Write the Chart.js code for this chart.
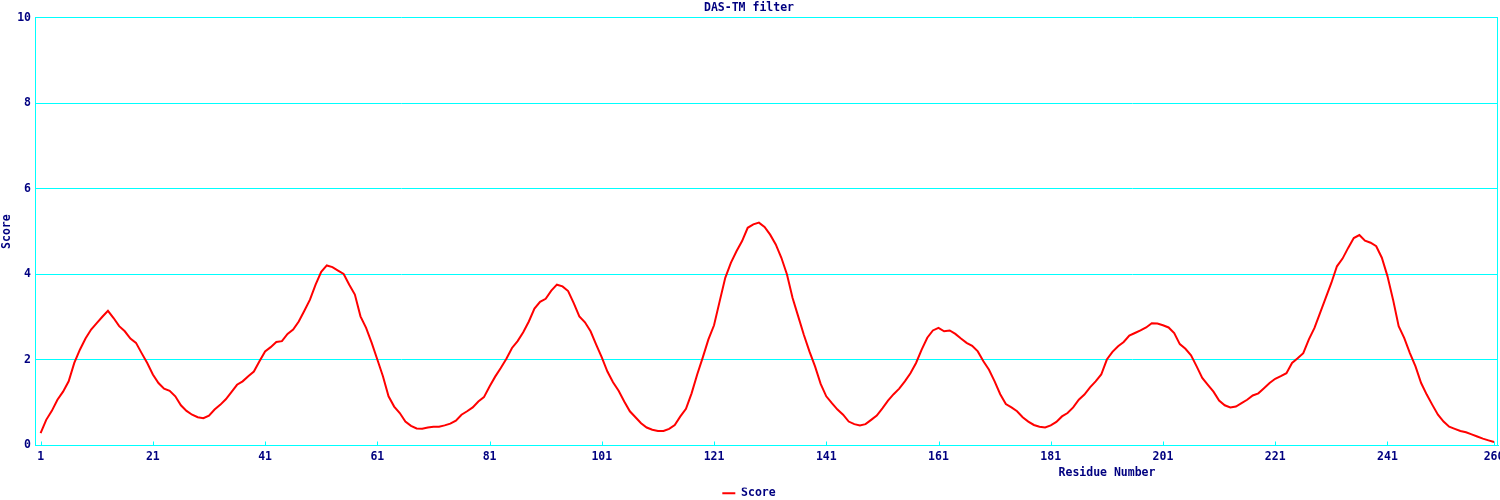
<!DOCTYPE html>
<html>
<head>
<meta charset="utf-8">
<title>DAS-TM filter</title>
<script src="https://cdn.jsdelivr.net/npm/chart.js@4"></script>
<style>
  html, body { margin: 0; padding: 0; background: #fff; }
  #wrap { width: 1500px; height: 500px; }
</style>
</head>
<body>
<div id="wrap"><canvas id="grafico"></canvas></div>
<script>
// DAS-TM score per residue
const scores = [
    0.29, 0.60, 0.81, 1.07, 1.26, 1.50, 1.93, 2.24, 2.50, 2.71,
    2.86, 3.01, 3.15, 2.98, 2.79, 2.67, 2.50, 2.40, 2.16, 1.93,
    1.66, 1.46, 1.33, 1.28, 1.15, 0.94, 0.81, 0.72, 0.66, 0.64,
    0.70, 0.84, 0.95, 1.08, 1.25, 1.42, 1.50, 1.62, 1.73, 1.97,
    2.20, 2.30, 2.42, 2.44, 2.61, 2.71, 2.90, 3.15, 3.41, 3.76,
    4.06, 4.21, 4.17, 4.09, 4.01, 3.76, 3.53, 3.02, 2.75, 2.40,
    2.01, 1.62, 1.15, 0.91, 0.76, 0.56, 0.46, 0.40, 0.39, 0.42,
    0.44, 0.44, 0.47, 0.51, 0.58, 0.72, 0.80, 0.89, 1.03, 1.13,
    1.38, 1.61, 1.81, 2.03, 2.28, 2.44, 2.65, 2.90, 3.20, 3.36,
    3.43, 3.62, 3.76, 3.72, 3.61, 3.33, 3.02, 2.88, 2.67, 2.36,
    2.06, 1.73, 1.48, 1.28, 1.03, 0.80, 0.66, 0.52, 0.42, 0.37,
    0.34, 0.34, 0.39, 0.48, 0.68, 0.86, 1.22, 1.66, 2.06, 2.48,
    2.81, 3.37, 3.92, 4.27, 4.54, 4.78, 5.09, 5.17, 5.21, 5.11,
    4.93, 4.70, 4.39, 4.00, 3.45, 3.02, 2.59, 2.20, 1.85, 1.44,
    1.15, 0.99, 0.84, 0.72, 0.56, 0.50, 0.47, 0.50, 0.60, 0.70,
    0.87, 1.05, 1.20, 1.33, 1.50, 1.69, 1.93, 2.24, 2.52, 2.69,
    2.75, 2.67, 2.69, 2.61, 2.50, 2.40, 2.33, 2.20, 1.97, 1.77,
    1.50, 1.20, 0.97, 0.89, 0.80, 0.66, 0.56, 0.48, 0.44, 0.42,
    0.47, 0.55, 0.68, 0.76, 0.89, 1.07, 1.19, 1.36, 1.50, 1.66,
    2.01, 2.19, 2.32, 2.42, 2.57, 2.63, 2.69, 2.76, 2.86, 2.85,
    2.81, 2.76, 2.63, 2.37, 2.26, 2.11, 1.85, 1.58, 1.42, 1.26,
    1.05, 0.94, 0.89, 0.91, 0.99, 1.07, 1.17, 1.22, 1.34, 1.46,
    1.56, 1.62, 1.69, 1.93, 2.04, 2.16, 2.48, 2.75, 3.10, 3.45,
    3.80, 4.19, 4.37, 4.62, 4.85, 4.92, 4.79, 4.74, 4.66, 4.39,
    3.96, 3.41, 2.79, 2.51, 2.16, 1.85, 1.46, 1.19, 0.95, 0.72,
    0.56, 0.44, 0.39, 0.34, 0.31, 0.26, 0.21, 0.16, 0.12, 0.08
];
const firstResidue = 1;
const xTicks = [1, 21, 41, 61, 81, 101, 121, 141, 161, 181, 201, 221, 241, 260];
const yTicks = [0, 2, 4, 6, 8, 10];

const navy = '#000080';
const cyan = '#00ffff';
const font = { family: '"DejaVu Sans Mono", monospace', size: 11.5, weight: 'bold' };

const points = scores.map((v, i) => ({ x: firstResidue + i, y: v }));

// tick marks pointing into the plot, right border, x-axis title
const extras = {
    id: 'extras',
    afterDraw(chart) {
        const { ctx, chartArea: a, scales: { x } } = chart;
        ctx.save();
        ctx.strokeStyle = cyan;
        ctx.lineWidth = 1;
        ctx.beginPath();
        xTicks.forEach(t => {
            const px = Math.round(x.getPixelForValue(t)) + 0.5;
            ctx.moveTo(px, a.bottom);
            ctx.lineTo(px, a.bottom - 4);
        });
        ctx.moveTo(Math.round(a.right) - 0.5, a.top);
        ctx.lineTo(Math.round(a.right) - 0.5, a.bottom);
        ctx.stroke();
        ctx.fillStyle = navy;
        ctx.font = 'bold 11.5px "DejaVu Sans Mono", monospace';
        ctx.textAlign = 'center';
        ctx.textBaseline = 'middle';
        ctx.fillText('Residue Number', 1107, 473);
        ctx.restore();
    }
};

new Chart(document.getElementById('grafico').getContext('2d'), {
    type: 'line',
    data: {
        datasets: [{
            label: 'Score',
            data: points,
            borderColor: '#ff0000',
            backgroundColor: '#ff0000',
            borderWidth: 2,
            pointRadius: 0,
            tension: 0,
            fill: false
        }]
    },
    options: {
        responsive: true,
        maintainAspectRatio: false,
        animation: false,
        layout: { padding: { left: 0, right: 2, top: 0, bottom: -9 } },
        scales: {
            x: {
                type: 'linear',
                min: 0,
                max: 260.7,
                afterBuildTicks: scale => { scale.ticks = xTicks.map(v => ({ value: v })); },
                afterFit: scale => { scale.paddingLeft = 0; scale.paddingRight = 0; scale.height = 42; },
                grid: { display: false, drawTicks: false },
                border: { color: cyan, width: 1 },
                ticks: { color: navy, font: font, padding: 5, autoSkip: false, maxRotation: 0 }
            },
            y: {
                min: 0,
                max: 10,
                afterBuildTicks: scale => { scale.ticks = yTicks.map(v => ({ value: v })); },
                afterFit: scale => { scale.width = 35; },
                grid: { color: cyan, drawTicks: false },
                border: { color: cyan, width: 1 },
                ticks: { color: navy, font: font, padding: 4 },
                title: { display: true, text: 'Score', color: navy, font: font, padding: { top: 0, bottom: 0 } }
            }
        },
        plugins: {
            title: {
                display: true,
                text: 'DAS-TM filter',
                color: navy,
                font: font,
                padding: { top: 1, bottom: 3 }
            },
            legend: {
                position: 'bottom',
                labels: {
                    color: navy,
                    font: font,
                    usePointStyle: true,
                    pointStyle: 'line',
                    pointStyleWidth: 13,
                    boxHeight: 10,
                    padding: 0
                }
            },
            tooltip: { enabled: false }
        }
    },
    plugins: [extras]
});
</script>
</body>
</html>
